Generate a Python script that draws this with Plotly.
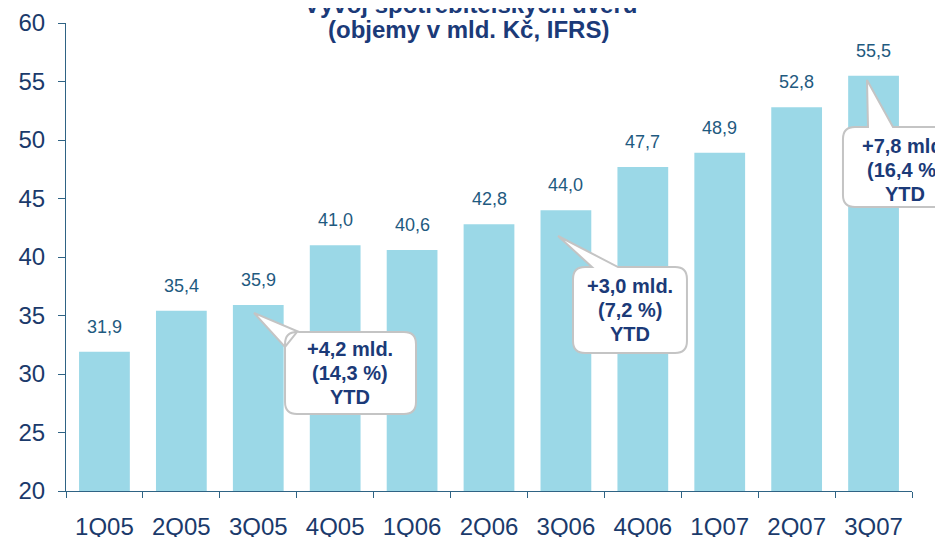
import plotly.graph_objects as go

# data
quarters = ["1Q05", "2Q05", "3Q05", "4Q05", "1Q06", "2Q06", "3Q06", "4Q06", "1Q07", "2Q07", "3Q07"]
volumes = [31.9, 35.4, 35.9, 41.0, 40.6, 42.8, 44.0, 47.7, 48.9, 52.8, 55.5]
labels = ["31,9", "35,4", "35,9", "41,0", "40,6", "42,8", "44,0", "47,7", "48,9", "52,8", "55,5"]
callout_texts = [["+4,2 mld.", "(14,3 %)", "YTD"],
                 ["+3,0 mld.", "(7,2 %)", "YTD"],
                 ["+7,8 mld.", "(16,4 %)", "YTD"]]

FONT = "Arial, Liberation Sans, sans-serif"
NAVY = "#1B3A78"
BAR = "#9BD8E7"
AXIS = "#2F6384"

W, H = 943, 537
OFF = 8  # the page body margin shifts the figure by 8 px
# plot area in page pixels (for placing the callouts)
L, R, T, B = 66, 912, 23, 491


def px(x, y):
    return (x - L) / (R - L), (B - y) / (B - T)


def callout_path(box, tip, a, b, r=12):
    # box = (x0, y0, x1, y1); pointer leaves the box at a, goes to tip and comes back at b
    x0, y0, x1, y1 = box
    return [("M", b), ("L", (x1 - r, y0)), ("Q", (x1, y0), (x1, y0 + r)),
            ("L", (x1, y1 - r)), ("Q", (x1, y1), (x1 - r, y1)),
            ("L", (x0 + r, y1)), ("Q", (x0, y1), (x0, y1 - r)),
            ("L", (x0, y0 + r)), ("Q", (x0, y0), (x0 + r, y0)),
            ("L", a), ("L", tip), ("L", b)]


def to_svg(pts):
    out = []
    for cmd in pts:
        coords = []
        for p in cmd[1:]:
            u, v = px(*p)
            coords.append(f"{u:.4f},{v:.4f}")
        out.append(cmd[0] + " " + " ".join(coords))
    return " ".join(out) + " Z"


fig = go.Figure()
fig.add_trace(go.Bar(x=quarters, y=volumes, marker=dict(color=BAR, line=dict(width=0)),
                     width=0.66, hoverinfo="x+y"))

# value labels above bars
for q, v, t in zip(quarters, volumes, labels):
    fig.add_annotation(x=q, y=v, text=t, showarrow=False, yanchor="bottom", yshift=13,
                       font=dict(family=FONT, size=18, color="#1F5A80"))

# callouts
callouts = [
    (callout_path((285, 332, 416, 414), (254, 313), (285, 347), (299, 332)), (350, 373)),
    (callout_path((573, 267, 687, 353), (558, 236), (592, 267), (618, 267)), (630, 310)),
    (callout_path((843, 127, 975, 207), (867, 80), (868, 127), (893, 127)), (905, 170)),
]
for (pts, pos), lines in zip(callouts, callout_texts):
    fig.add_shape(type="path", path=to_svg(pts), xref="paper", yref="paper",
                  fillcolor="white", line=dict(color="#C4C4C4", width=2), layer="above")
    for i, line in enumerate(lines):
        u, v = px(pos[0], pos[1] + (i - 1) * 24)
        fig.add_annotation(x=u, y=v, xref="paper", yref="paper", text="<b>" + line + "</b>",
                           showarrow=False, xanchor="center", yanchor="middle",
                           font=dict(family=FONT, size=20, color=NAVY))

# title (first line is cut off by the top edge)
u, v = px(470, 5)
fig.add_annotation(x=u, y=v, xref="paper", yref="paper", text="<b>Vývoj spotřebitelských úvěrů</b>",
                   showarrow=False, xanchor="center", yanchor="middle",
                   font=dict(family=FONT, size=24, color=NAVY))
u, v = px(468, 30)
fig.add_annotation(x=u, y=v, xref="paper", yref="paper", text="<b>(objemy v mld. Kč, IFRS)</b>",
                   showarrow=False, xanchor="center", yanchor="middle",
                   font=dict(family=FONT, size=24, color=NAVY))

fig.update_xaxes(showline=True, linecolor=AXIS, linewidth=1, ticks="outside", tickson="boundaries",
                 ticklen=6, tickcolor=AXIS, showgrid=False, ticklabelstandoff=14, automargin=False,
                 tickfont=dict(family=FONT, size=24, color="#1B3A6B"))
fig.update_yaxes(range=[20, 60], dtick=5, showline=True, linecolor=AXIS, linewidth=1,
                 ticks="outside", ticklen=7, tickcolor=AXIS, showgrid=False, zeroline=False,
                 ticklabelstandoff=8, automargin=False,
                 tickfont=dict(family=FONT, size=24, color="#1B3A6B"))

fig.update_layout(width=W, height=H,
                  margin=dict(l=L - OFF, r=W - (R - OFF), t=T - OFF, b=H - (B - OFF)),
                  plot_bgcolor="white", paper_bgcolor="white", showlegend=False, bargap=0.34)

fig.write_html("out.html")
